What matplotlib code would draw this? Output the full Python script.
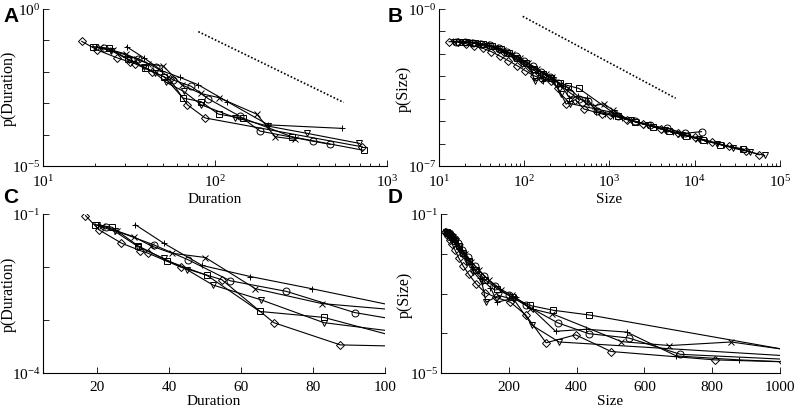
import matplotlib
matplotlib.use("Agg")
import matplotlib.pyplot as plt
from matplotlib.ticker import FixedLocator, NullLocator, LogLocator, NullFormatter

plt.rcParams['font.family'] = ['Liberation Serif', 'DejaVu Serif']
plt.rcParams['mathtext.fontset'] = 'custom'
plt.rcParams['mathtext.rm'] = 'Liberation Serif'
plt.rcParams['mathtext.it'] = 'Liberation Serif:italic'
plt.rcParams['mathtext.bf'] = 'Liberation Serif:bold'

# ---------------- data: avalanche duration distributions ----------------
markers = ['D', 's', 'o', 'v', 'x', '+']

dur_d_x = [16.8, 20.6, 26.8, 32.0, 34.2, 43.2, 54.7, 69.1, 87.6, 720]
dur_d_p = [9.33e-2, 5.01e-2, 2.82e-2, 2.04e-2, 1.82e-2, 1.00e-2, 5.75e-3, 8.91e-4, 3.39e-4, 4.07e-5]

dur_s_x = [19.4, 24.2, 31.4, 39.4, 50.6, 65.2, 83.0, 105, 146, 280, 731]
dur_s_p = [6.31e-2, 5.62e-2, 2.51e-2, 1.32e-2, 6.92e-3, 1.45e-3, 1.12e-3, 4.47e-4, 3.31e-4, 8.51e-5, 3.16e-5]

dur_o_x = [22.6, 35.7, 45.2, 57.0, 72.6, 91.6, 140, 183, 371, 468]
dur_o_p = [5.62e-2, 2.63e-2, 1.38e-2, 5.50e-3, 3.47e-3, 1.38e-3, 3.80e-4, 1.29e-4, 6.17e-5, 4.90e-5]

dur_v_x = [20.0, 25.0, 31.5, 38.5, 45.0, 52.2, 65.6, 83.0, 131, 204, 342, 692]
dur_v_p = [6.17e-2, 4.68e-2, 2.40e-2, 1.45e-2, 8.91e-3, 4.57e-3, 2.40e-3, 8.91e-4, 3.47e-4, 1.86e-4, 1.10e-4, 5.25e-5]

dur_x_x = [21.5, 25.5, 30.2, 35.0, 40.8, 50.1, 64.0, 82.5, 105, 175, 224, 292]
dur_x_p = [6.03e-2, 4.79e-2, 3.72e-2, 2.51e-2, 1.82e-2, 1.51e-2, 3.89e-3, 2.04e-3, 1.51e-3, 4.47e-4, 8.51e-5, 7.08e-5]

dur_p_x = [30.6, 38.5, 49.2, 62.6, 79.7, 118, 204, 547]
dur_p_p = [6.31e-2, 2.82e-2, 1.07e-2, 6.61e-3, 3.89e-3, 1.12e-3, 2.04e-4, 1.58e-4]

# ---------------- data: avalanche size distributions ----------------
size_d_x = [13.1, 16.5, 21, 26, 33, 41, 52, 65, 82, 103, 130, 163, 205, 250, 310, 397, 502, 807,
            1010, 1600, 2500, 4000, 6300, 10000, 16000, 25000, 40000, 57000]
size_d_p = [3.47e-2, 3.39e-2, 2.82e-2, 2.24e-2, 1.74e-2, 1.26e-2, 7.94e-3, 5.01e-3, 3.02e-3, 1.78e-3,
            1.05e-3, 7.94e-4, 6.03e-4, 2.88e-4, 5.75e-5, 9.12e-5, 3.47e-5, 2.14e-5,
            1.91e-5, 1.17e-5, 7.41e-6, 4.68e-6, 3.02e-6, 1.91e-6, 1.17e-6, 7.59e-7, 4.90e-7, 3.16e-7]

size_s_x = [17, 21, 26.5, 33, 42, 53, 66, 83, 104, 131, 165, 208, 262, 330, 438,
            1260, 2000, 3200, 5000, 8000, 12600, 20000, 37000]
size_s_p = [3.55e-2, 3.31e-2, 3.02e-2, 2.63e-2, 2.14e-2, 1.58e-2, 1.07e-2, 6.61e-3, 3.80e-3, 2.19e-3,
            1.32e-3, 8.32e-4, 5.01e-4, 3.80e-4, 2.88e-4,
            1.66e-5, 9.55e-6, 5.75e-6, 3.55e-6, 2.24e-6, 1.41e-6, 8.91e-7, 5.75e-7]

size_o_x = [16, 20, 25, 31.5, 40, 50, 63, 79, 100, 126, 158, 200, 251, 345, 436, 554, 706,
            1250, 2000, 3000, 4700, 7600, 12000]
size_o_p = [3.47e-2, 3.31e-2, 3.16e-2, 2.82e-2, 2.40e-2, 1.82e-2, 1.26e-2, 8.32e-3, 5.01e-3, 2.82e-3,
            1.58e-3, 8.91e-4, 5.01e-4, 1.82e-4, 9.77e-5, 7.59e-5, 2.95e-5,
            1.78e-5, 1.00e-5, 6.61e-6, 4.79e-6, 2.88e-6, 3.39e-6]

size_v_x = [15, 19, 24, 30, 38, 48, 60, 76, 95, 120, 133, 170, 215, 269, 348,
            1120, 1800, 2800, 4500, 7100, 11200, 18000, 28000, 45000, 66000]
size_v_p = [3.47e-2, 3.31e-2, 3.09e-2, 2.69e-2, 2.19e-2, 1.58e-2, 1.05e-2, 6.31e-3, 3.55e-3, 2.00e-3,
            6.03e-4, 8.91e-4, 7.08e-4, 1.58e-4, 6.03e-5,
            2.40e-5, 1.07e-5, 6.61e-6, 3.98e-6, 2.51e-6, 1.58e-6, 1.00e-6, 6.31e-7, 4.17e-7, 2.95e-7]

size_x_x = [18, 22.5, 28, 35.5, 45, 56, 71, 89, 112, 141, 178, 210, 264, 328, 532, 674, 856,
            1090, 1700, 2700, 4300, 6800, 10800]
size_x_p = [3.55e-2, 3.39e-2, 3.09e-2, 2.63e-2, 2.09e-2, 1.51e-2, 1.00e-2, 6.31e-3, 3.80e-3, 2.19e-3,
            1.26e-3, 8.91e-4, 4.17e-4, 3.09e-4, 6.17e-5, 4.90e-5, 6.03e-5,
            3.16e-5, 1.10e-5, 6.76e-6, 4.17e-6, 2.63e-6, 1.66e-6]

size_p_x = [14.5, 18.5, 23, 29, 37, 46, 58, 73, 92, 116, 146, 166, 220, 270, 338, 428, 548, 694, 879,
            1100, 1400, 2200, 3500, 5600, 8900, 14000, 22000, 35000]
size_p_p = [3.63e-2, 3.47e-2, 3.24e-2, 2.88e-2, 2.40e-2, 1.82e-2, 1.26e-2, 7.94e-3, 4.57e-3, 2.51e-3,
            1.41e-3, 6.03e-4, 7.94e-4, 3.98e-4, 1.12e-4, 1.26e-4, 1.07e-4, 2.69e-5, 2.14e-5,
            1.78e-5, 1.38e-5, 8.71e-6, 5.37e-6, 3.39e-6, 2.14e-6, 1.35e-6, 8.51e-7, 5.50e-7]

# dotted power-law guide lines (end points)
ref_dur_x = [80, 560]
ref_dur_p = [1.9e-1, 1.06e-3]
ref_size_x = [96, 5970]
ref_size_p = [4.7e-1, 1.05e-4]

# tick labels
dur_log_xticks = [10, 100, 1000]
dur_log_xlabels = ['$10^{1}$', '$10^{2}$', '$10^{3}$']
size_log_xticks = [10, 100, 1000, 10000, 100000]
size_log_xlabels = ['$10^{1}$', '$10^{2}$', '$10^{3}$', '$10^{4}$', '$10^{5}$']
dur_lin_xticks = [20, 40, 60, 80, 100]
size_lin_xticks = [200, 400, 600, 800, 1000]

duration_series = [(dur_d_x, dur_d_p), (dur_s_x, dur_s_p), (dur_o_x, dur_o_p),
                   (dur_v_x, dur_v_p), (dur_x_x, dur_x_p), (dur_p_x, dur_p_p)]
size_series = [(size_d_x, size_d_p), (size_s_x, size_s_p), (size_o_x, size_o_p),
               (size_v_x, size_v_p), (size_x_x, size_x_p), (size_p_x, size_p_p)]

# ---------------- figure ----------------
fig = plt.figure(figsize=(7.96, 4.10), dpi=100)
W, H = 796.0, 410.0

def box(l, r, t, b):
    return [l / W, 1 - b / H, (r - l) / W, (b - t) / H]

axA = fig.add_axes(box(43, 387, 10, 167))
axB = fig.add_axes(box(439, 780, 10, 167))
axC = fig.add_axes(box(43, 385, 215, 374))
axD = fig.add_axes(box(441, 780, 215, 374))

TICK_FS = 11

def style(ax):
    for s in ['top', 'right']:
        ax.spines[s].set_visible(False)
    for s in ['left', 'bottom']:
        ax.spines[s].set_linewidth(0.8)
    ax.tick_params(which='both', direction='in', width=0.6, labelsize=TICK_FS)
    ax.tick_params(which='major', length=4)
    ax.tick_params(which='minor', length=2)
    ax.tick_params(axis='x', pad=5)
    ax.tick_params(axis='y', pad=2)
    ax.yaxis.set_minor_locator(NullLocator())

def draw(ax, series):
    for (xs, ps), m in zip(series, markers):
        ms = 4.5 if m in ('D', 's') else 5
        ax.plot(xs, ps, color='black', lw=0.8, marker=m, ms=ms, mfc='none',
                mec='black', mew=0.7, clip_on=True)

def ylog_ticks(ax, lo, hi, toplabel):
    ticks = [10.0 ** k for k in range(lo, hi + 1)]
    labels = [''] * len(ticks)
    labels[0] = '$10^{%d}$' % lo
    labels[-1] = toplabel
    ax.yaxis.set_major_locator(FixedLocator(ticks))
    ax.set_yticklabels(labels)

def ylabel_at(ax, text, right_px, left_px, width_px):
    ax.set_ylabel(text, fontsize=11.5)
    ax.yaxis.set_label_coords((right_px - left_px) / width_px, 0.5)

# Panel A
draw(axA, duration_series)
axA.plot(ref_dur_x, ref_dur_p, color='black', lw=1.2, ls=(0, (1, 1.2)))
axA.set_xscale('log'); axA.set_yscale('log')
axA.set_xlim(10, 1000); axA.set_ylim(1e-5, 1)
style(axA)
axA.set_xticks(dur_log_xticks); axA.set_xticklabels(dur_log_xlabels)
axA.xaxis.set_minor_locator(LogLocator(base=10, subs=range(2, 10)))
axA.xaxis.set_minor_formatter(NullFormatter())
ylog_ticks(axA, -5, 0, '$10^{0}$')
axA.set_xlabel('Duration', fontsize=11, labelpad=2)
ylabel_at(axA, 'p(Duration)', 17, 43, 344)

# Panel B
draw(axB, size_series)
axB.plot(ref_size_x, ref_size_p, color='black', lw=1.2, ls=(0, (1, 1.2)))
axB.set_xscale('log'); axB.set_yscale('log')
axB.set_xlim(10, 1e5); axB.set_ylim(1e-7, 1)
style(axB)
axB.set_xticks(size_log_xticks); axB.set_xticklabels(size_log_xlabels)
axB.xaxis.set_minor_locator(LogLocator(base=10, subs=range(2, 10)))
axB.xaxis.set_minor_formatter(NullFormatter())
ylog_ticks(axB, -7, 0, '$10^{-0}$')
axB.set_xlabel('Size', fontsize=11, labelpad=2)
ylabel_at(axB, 'p(Size)', 412, 439, 341)

# Panel C
draw(axC, duration_series)
axC.set_yscale('log')
axC.set_xlim(5, 100); axC.set_ylim(1e-4, 1e-1)
style(axC)
axC.set_xticks(dur_lin_xticks)
ylog_ticks(axC, -4, -1, '$10^{-1}$')
axC.set_xlabel('Duration', fontsize=11, labelpad=1)
ylabel_at(axC, 'p(Duration)', 17, 43, 342)

# Panel D
draw(axD, size_series)
axD.set_yscale('log')
axD.set_xlim(0, 1000); axD.set_ylim(1e-5, 1e-1)
style(axD)
axD.set_xticks(size_lin_xticks)
ylog_ticks(axD, -5, -1, '$10^{-1}$')
axD.set_xlabel('Size', fontsize=11, labelpad=1)
ylabel_at(axD, 'p(Size)', 413, 441, 339)

for lab, (x, y) in zip(['A', 'B', 'C', 'D'], [(3, 7), (388, 7), (3, 188), (388, 188)]):
    fig.text(x / W, 1 - y / H, lab, fontsize=15, fontweight='bold',
             family=['Liberation Sans', 'DejaVu Sans'], ha='left', va='top')

fig.savefig('out.png', dpi=100)
